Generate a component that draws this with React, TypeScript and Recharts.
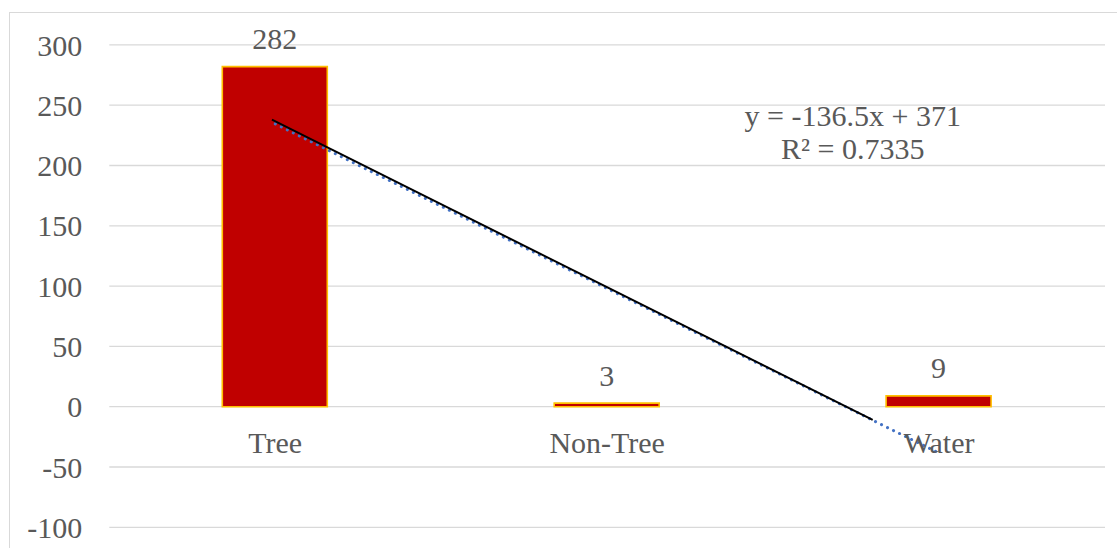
import React from "react";
import {
  ComposedChart,
  Bar,
  XAxis,
  YAxis,
  CartesianGrid,
  LabelList,
  ReferenceLine,
  ReferenceDot,
} from "recharts";

const categories = ["Tree", "Non-Tree", "Water"];
const counts = [282, 3, 9];
const positions = [1, 2, 3];
const yTicks = [-100, -50, 0, 50, 100, 150, 200, 250, 300];

// Linear trendline (from the chart's equation label), endpoints at first and last category
const trendX = [1, 3];
const trendY = [234.5, -38.5];
// Hand-drawn black line lying on the trend
const blackX = [0.99, 2.8];
const blackY = [238, -11];
const trendLabel = ["y = -136.5x + 371", "R\u00B2 = 0.7335"];
const trendLabelAt = { x: 2.74, y: 233 };

const data = categories.map((c, i) => ({ name: c, idx: positions[i], value: counts[i] }));

const W = 1117;
const H = 548;
const M_TOP = 44.9;
const X_AXIS_H = 20;
const M_BOTTOM = 20.7 - X_AXIS_H;
const M_RIGHT = 12;
const Y_AXIS_W = 109.3;
const Y_MIN = -100;
const Y_MAX = 300;
const PLOT_H = H - M_TOP - M_BOTTOM - X_AXIS_H;
const ZERO_FROM_BOTTOM = (PLOT_H * (0 - Y_MIN)) / (Y_MAX - Y_MIN);

const FONT = "Liberation Serif";
const FS = 30;
const TEXT = "#595959";

const CatTick = (props: any) => {
  const { x, y, payload } = props;
  return (
    <text
      x={x}
      y={y - ZERO_FROM_BOTTOM + 46}
      textAnchor="middle"
      fill={TEXT}
      style={{ fontFamily: FONT, fontSize: FS }}
    >
      {payload.value}
    </text>
  );
};

const TrendText = (props: any) => {
  const vb = props.viewBox || {};
  const cx = vb.cx ?? vb.x ?? 0;
  const cy = vb.cy ?? vb.y ?? 0;
  return (
    <text
      x={cx}
      y={cy}
      textAnchor="middle"
      fill={TEXT}
      style={{ fontFamily: FONT, fontSize: FS }}
    >
      <tspan x={cx} dy={0}>{trendLabel[0]}</tspan>
      <tspan x={cx} dy={33}>{trendLabel[1]}</tspan>
    </text>
  );
};

export default function App() {
  return (
    <div
      style={{
        position: "absolute",
        left: 0,
        top: 0,
        width: W,
        height: H,
        background: "#fff",
        overflow: "hidden",
        fontFamily: FONT,
      }}
    >
      <div
        style={{
          position: "absolute",
          left: 9,
          top: 12,
          width: W,
          height: H,
          borderLeft: "1px solid #d9d9d9",
          borderTop: "1px solid #d9d9d9",
        }}
      />
      <div style={{ position: "absolute", left: 0, top: 0 }}>
        <ComposedChart
          width={W}
          height={H}
          data={data}
          margin={{ top: M_TOP, right: M_RIGHT, bottom: M_BOTTOM, left: 0 }}
        >
          <CartesianGrid
            vertical={false}
            stroke="#d9d9d9"
            strokeWidth={1.3}
            yAxisId="y"
            xAxisId="cat"
          />
          <XAxis
            xAxisId="cat"
            dataKey="name"
            type="category"
            axisLine={false}
            tickLine={false}
            tickSize={0}
            tickMargin={0}
            height={X_AXIS_H}
            tick={<CatTick />}
            interval={0}
          />
          <XAxis
            xAxisId="num"
            dataKey="idx"
            type="number"
            domain={[0.5, 3.5]}
            hide
            allowDataOverflow
          />
          <YAxis
            yAxisId="y"
            domain={[Y_MIN, Y_MAX]}
            ticks={yTicks}
            width={Y_AXIS_W}
            axisLine={false}
            tickLine={false}
            tickSize={0}
            tickMargin={27}
            interval={0}
            tick={{ fill: TEXT, fontFamily: FONT, fontSize: FS }}
            allowDataOverflow
          />
          <Bar
            xAxisId="cat"
            yAxisId="y"
            dataKey="value"
            fill="#C00000"
            stroke="#FFC000"
            strokeWidth={1.6}
            barSize={105}
            isAnimationActive={false}
          >
            <LabelList
              dataKey="value"
              position="top"
              offset={17.5}
              fill={TEXT}
              fontFamily={FONT}
              fontSize={FS}
            />
          </Bar>
          <ReferenceLine
            xAxisId="num"
            yAxisId="y"
            segment={[
              { x: trendX[0], y: trendY[0] },
              { x: trendX[1], y: trendY[1] },
            ]}
            stroke="#4472C4"
            strokeWidth={3}
            strokeDasharray="0.1 6.6"
            strokeLinecap="round"
            ifOverflow="visible"
          />
          <ReferenceLine
            xAxisId="num"
            yAxisId="y"
            segment={[
              { x: blackX[0], y: blackY[0] },
              { x: blackX[1], y: blackY[1] },
            ]}
            stroke="#000"
            strokeWidth={2}
            ifOverflow="visible"
          />
          <ReferenceDot
            xAxisId="num"
            yAxisId="y"
            x={trendLabelAt.x}
            y={trendLabelAt.y}
            r={0}
            fill="none"
            stroke="none"
            ifOverflow="visible"
            label={<TrendText />}
          />
        </ComposedChart>
      </div>
    </div>
  );
}
